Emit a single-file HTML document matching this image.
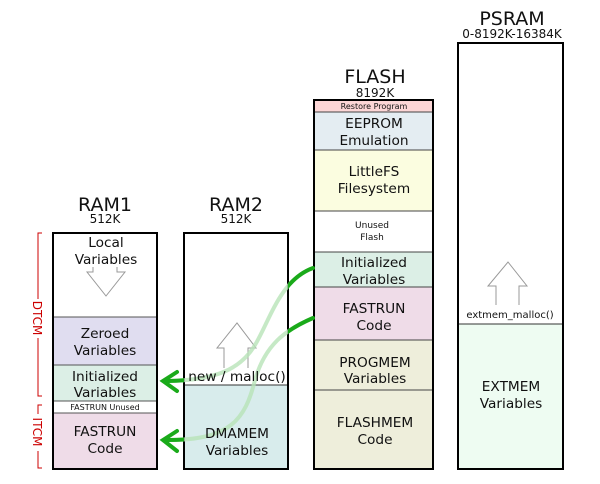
<!DOCTYPE html>
<html><head><meta charset="utf-8"><style>body{margin:0;background:#fff}svg{display:block}text{font-family:"DejaVu Sans","Liberation Sans",sans-serif;text-anchor:middle;fill:#111}.m{font-size:13.7px}</style></head><body>
<svg width="600" height="484" viewBox="0 0 600 484" xmlns="http://www.w3.org/2000/svg">
<defs>
<clipPath id="out"><rect x="0" y="0" width="184" height="484"/><rect x="288" y="0" width="312" height="484"/></clipPath>
</defs>
<text x="105" y="211" font-size="19">RAM1</text><text x="105" y="223" font-size="12">512K</text>
<text x="236" y="211" font-size="19">RAM2</text><text x="236" y="223" font-size="12">512K</text>
<text x="375" y="83" font-size="19">FLASH</text><text x="375" y="97" font-size="12">8192K</text>
<text x="512" y="25" font-size="19">PSRAM</text><text x="512" y="38" font-size="12">0-8192K-16384K</text>
<!-- RAM1 -->
<rect x="52" y="317" width="105" height="48" fill="#e0ddf0"/>
<rect x="52" y="365" width="105" height="36" fill="#dcefe6"/>
<rect x="52" y="413" width="105" height="56" fill="#efdce8"/>
<g stroke="#555" stroke-width="1"><line x1="52" y1="317" x2="157" y2="317"/><line x1="52" y1="365" x2="157" y2="365"/><line x1="52" y1="401" x2="157" y2="401"/><line x1="52" y1="413" x2="157" y2="413"/></g>
<rect x="53" y="233" width="104" height="236" fill="none" stroke="#000" stroke-width="2"/>
<text x="106" y="247" class="m">Local</text><text x="106" y="264" class="m">Variables</text>
<path d="M93,267 v5 h-6 l19,24 l19,-24 h-8 v-5" fill="#fff" stroke="#999" stroke-width="1"/>
<text x="105" y="338" class="m">Zeroed</text><text x="105" y="355" class="m">Variables</text>
<text x="105" y="381" class="m">Initialized</text><text x="105" y="397" class="m">Variables</text>
<text x="105" y="410" font-size="8">FASTRUN Unused</text>
<text x="105" y="436" class="m">FASTRUN</text><text x="105" y="453" class="m">Code</text>
<!-- RAM2 -->
<rect x="183" y="385" width="105" height="84" fill="#d8ecec"/>
<line x1="183" y1="385" x2="288" y2="385" stroke="#333"/>
<rect x="184" y="233" width="104" height="236" fill="none" stroke="#000" stroke-width="2"/>
<path d="M224,368 v-20 h-7 l20,-25 l19,25 h-8 v20" fill="#fff" stroke="#999" stroke-width="1"/>
<!-- green arrows (light part under text) -->
<g fill="none" stroke-linecap="round">
<path d="M313,268 C280,280 270,320 255,345 C240,370 215,380 168,381" stroke="#b8e4b8" stroke-width="4" opacity="0.8"/>
<path d="M313,318 C285,330 265,345 255,380 C245,420 230,440 168,440" stroke="#b8e4b8" stroke-width="4" opacity="0.8"/>
</g>
<text x="237" y="381" class="m">new / malloc()</text>
<text x="237" y="438" class="m">DMAMEM</text><text x="237" y="455" class="m">Variables</text>
<!-- FLASH -->
<rect x="314" y="101" width="119" height="11" fill="#fcd6d6"/>
<rect x="314" y="112" width="119" height="38" fill="#e4edf2"/>
<rect x="314" y="150" width="119" height="61" fill="#fbfde0"/>
<rect x="314" y="252" width="119" height="35" fill="#dcefe6"/>
<rect x="314" y="287" width="119" height="53" fill="#efdce8"/>
<rect x="314" y="340" width="119" height="129" fill="#eeeedb"/>
<g stroke="#444" stroke-width="1"><line x1="314" y1="112" x2="433" y2="112"/><line x1="314" y1="150" x2="433" y2="150"/><line x1="314" y1="211" x2="433" y2="211"/><line x1="314" y1="252" x2="433" y2="252"/><line x1="314" y1="287" x2="433" y2="287"/><line x1="314" y1="340" x2="433" y2="340"/><line x1="314" y1="390" x2="433" y2="390"/></g>
<rect x="314" y="100" width="119" height="369" fill="none" stroke="#000" stroke-width="2"/>
<text x="374" y="109" font-size="8">Restore Program</text>
<text x="374" y="128" class="m">EEPROM</text><text x="374" y="145" class="m">Emulation</text>
<text x="374" y="176" class="m">LittleFS</text><text x="374" y="193" class="m">Filesystem</text>
<text x="372" y="228" font-size="9">Unused</text><text x="372" y="240" font-size="9">Flash</text>
<text x="374" y="267" class="m">Initialized</text><text x="374" y="284" class="m">Variables</text>
<text x="374" y="313" class="m">FASTRUN</text><text x="374" y="330" class="m">Code</text>
<text x="375" y="367" class="m">PROGMEM</text><text x="375" y="383" class="m">Variables</text>
<text x="375" y="427" class="m">FLASHMEM</text><text x="375" y="444" class="m">Code</text>
<!-- PSRAM -->
<rect x="458" y="324" width="105" height="145" fill="#eefcf2"/>
<line x1="458" y1="324" x2="563" y2="324" stroke="#333"/>
<rect x="458" y="43" width="105" height="426" fill="none" stroke="#000" stroke-width="2"/>
<path d="M496,305 v-19 h-8 l20,-24 l19,24 h-8 v19" fill="#fff" stroke="#999" stroke-width="1"/>
<text x="510" y="318" font-size="10" style="paint-order:stroke" stroke="#fff" stroke-width="3">extmem_malloc()</text>
<text x="511" y="391" class="m">EXTMEM</text><text x="511" y="408" class="m">Variables</text>
<!-- DTCM/ITCM brackets -->
<g stroke="#c00" stroke-width="1" fill="none">
<path d="M42,233 h-4 v66"/><path d="M38,338 v58 h4"/>
<path d="M42,405 h-4 v9"/><path d="M38,451 v17 h4"/>
</g>
<text transform="translate(33,318) rotate(90)" font-size="12" style="fill:#c00">DTCM</text>
<text transform="translate(33,432) rotate(90)" font-size="12" style="fill:#c00">ITCM</text>
<g fill="none" stroke-linecap="round" clip-path="url(#out)" stroke="#1aaa1a" stroke-width="4">
<path d="M313,268 C280,280 270,320 255,345 C240,370 215,380 168,381"/>
<path d="M313,318 C285,330 265,345 255,380 C245,420 230,440 168,440"/>
<path d="M177,372 L163,381 L177,391"/>
<path d="M177,431 L163,440 L177,451"/>
</g>
</svg>
</body></html>
